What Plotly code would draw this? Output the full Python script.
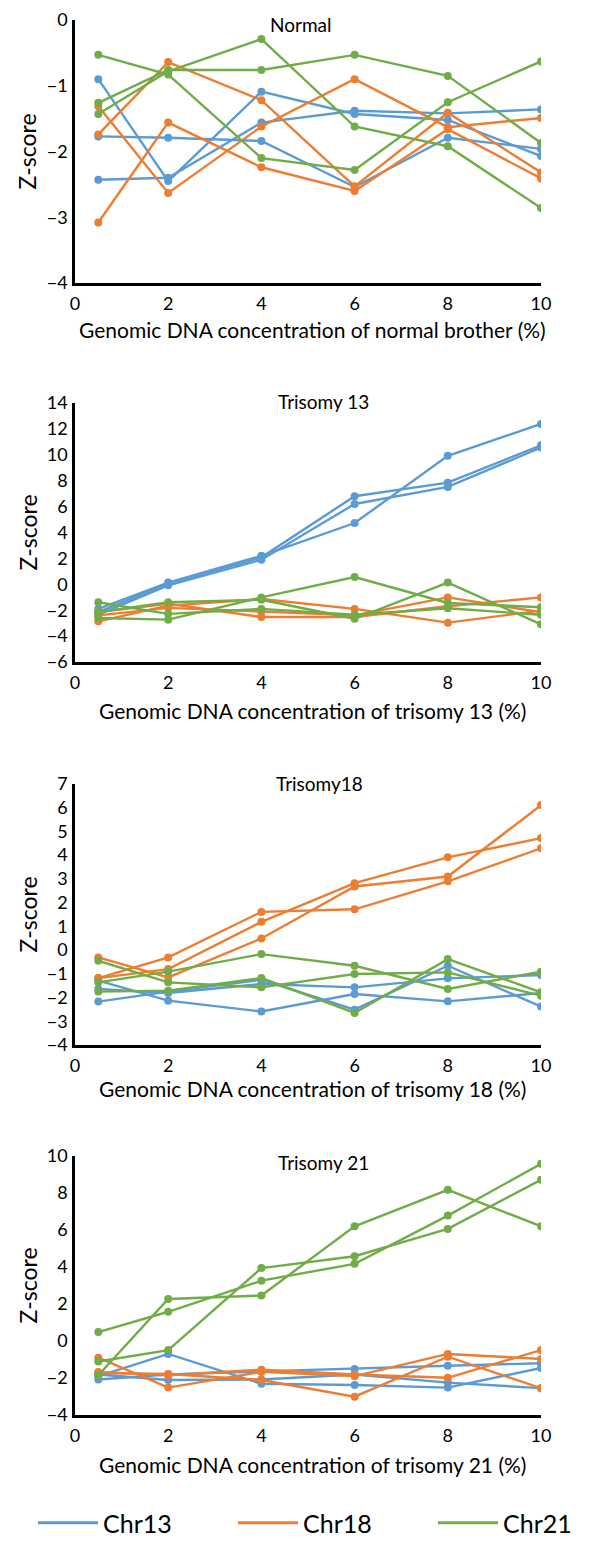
import plotly.graph_objects as go

# The page body keeps an 8px margin at the top/left; the figure fills the rest
OFF = 8
W, H = 598 - OFF, 1546 - OFF

conc = [0.5, 2, 4, 6, 8, 10]
x_ticks = [0, 2, 4, 6, 8, 10]

# ---- Normal ----
normal_chr13 = [
    [-0.90, -2.45, -1.09, -1.43, -1.52, -2.07],
    [-2.43, -2.40, -1.56, -1.38, -1.42, -1.36],
    [-1.77, -1.79, -1.84, -2.54, -1.79, -1.96],
]
normal_chr18 = [
    [-1.74, -0.64, -1.22, -2.53, -1.41, -2.32],
    [-3.08, -1.56, -2.24, -2.60, -1.66, -2.41],
    [-1.31, -2.63, -1.62, -0.90, -1.63, -1.49],
]
normal_chr21 = [
    [-0.53, -0.83, -2.10, -2.28, -1.25, -0.63],
    [-1.26, -0.76, -0.76, -0.53, -0.85, -1.87],
    [-1.43, -0.78, -0.29, -1.62, -1.92, -2.86],
]

# ---- Trisomy 13 ----
t13_chr13 = [
    [-1.90, 0.13, 2.20, 4.73, 9.92, 12.38],
    [-2.15, 0.05, 2.08, 6.80, 7.85, 10.73],
    [-2.35, -0.08, 1.90, 6.20, 7.52, 10.56],
]
t13_chr18 = [
    [-2.86, -1.65, -1.14, -1.90, -2.96, -2.03],
    [-2.40, -1.82, -2.10, -2.40, -1.01, -2.15],
    [-2.15, -1.50, -2.53, -2.53, -1.70, -1.01],
]
t13_chr21 = [
    [-2.60, -2.73, -1.01, 0.56, -1.44, -1.77],
    [-1.39, -2.28, -1.90, -2.35, -1.85, -2.35],
    [-2.15, -1.39, -1.19, -2.66, 0.13, -3.09],
]

# ---- Trisomy 18 ----
t18_chr13 = [
    [-1.29, -2.13, -2.59, -1.85, -2.16, -1.81],
    [-1.64, -1.81, -1.43, -1.57, -1.19, -1.05],
    [-2.17, -1.75, -1.25, -2.51, -0.66, -2.38],
]
t18_chr18 = [
    [-0.31, -1.15, 0.49, 2.68, 3.10, 6.11],
    [-1.18, -0.31, 1.61, 1.72, 2.90, 4.29],
    [-1.18, -0.80, 1.19, 2.82, 3.91, 4.72],
]
t18_chr21 = [
    [-0.45, -1.36, -1.57, -1.01, -0.94, -1.92],
    [-1.36, -0.91, -0.17, -0.66, -1.64, -0.91],
    [-1.75, -1.71, -1.18, -2.65, -0.38, -1.78],
]

# ---- Trisomy 21 ----
t21_chr13 = [
    [-1.90, -0.70, -2.31, -2.38, -2.52, -1.46],
    [-2.08, -1.81, -1.64, -1.51, -1.34, -1.20],
    [-1.81, -2.11, -2.08, -1.81, -2.25, -2.55],
]
t21_chr18 = [
    [-0.90, -2.52, -1.67, -1.90, -0.70, -0.97],
    [-1.73, -1.78, -2.11, -3.01, -0.85, -2.55],
    [-1.67, -1.85, -1.55, -1.81, -1.99, -0.49],
]
t21_chr21 = [
    [0.48, 1.58, 3.26, 4.17, 6.78, 9.58],
    [-1.11, -0.49, 3.94, 4.58, 6.06, 8.71],
    [-1.85, 2.27, 2.46, 6.20, 8.17, 6.20],
]

panel_titles = ["Normal", "Trisomy 13", "Trisomy18", "Trisomy 21"]
x_titles = [
    "Genomic DNA concentration of normal brother (%)",
    "Genomic DNA concentration of trisomy 13 (%)",
    "Genomic DNA concentration of trisomy 18 (%)",
    "Genomic DNA concentration of trisomy 21 (%)",
]
y_ranges = [[-4, 0], [-6, 14], [-4, 7], [-4, 10]]
y_dticks = [1, 2, 1, 2]
series_names = ["Chr13", "Chr18", "Chr21"]
colors = ["#5B9BD5", "#ED7D31", "#70AD47"]

panels = [
    [normal_chr13, normal_chr18, normal_chr21],
    [t13_chr13, t13_chr18, t13_chr21],
    [t18_chr13, t18_chr18, t18_chr21],
    [t21_chr13, t21_chr18, t21_chr21],
]

# page-pixel geometry of each plot area (as seen in the reference)
px_left, px_right = 75, 541
px_tops = [20, 403, 784, 1156]
px_bots = [283, 662, 1045, 1415]
title_px = [(300, 24), (323, 402), (319, 783), (323, 1162)]
xtitle_px = [329, 711, 1088, 1464]


def fx(X):
    return (X - OFF) / W


def fy(Y):
    return 1 - (Y - OFF) / H


FONT = "Lato, 'Open Sans', sans-serif"

fig = go.Figure()
layout = {}
annotations = []

for p, groups in enumerate(panels):
    ax = "" if p == 0 else str(p + 1)
    for s, lines in enumerate(groups):
        for k, vals in enumerate(lines):
            fig.add_trace(go.Scatter(
                x=conc, y=vals, mode="lines+markers",
                line=dict(color=colors[s], width=2.4),
                marker=dict(color=colors[s], size=8),
                name=series_names[s], legendgroup=series_names[s],
                showlegend=False,
                xaxis="x" + ax, yaxis="y" + ax,
            ))
    layout["xaxis" + ax] = dict(
        domain=[fx(px_left), fx(px_right)], anchor="y" + ax,
        range=[0, 10], tickvals=x_ticks, showgrid=False, zeroline=False,
        showline=True, linecolor="black", linewidth=2.5, ticks="",
        tickfont=dict(family=FONT, size=18, color="black"),
        ticklabelstandoff=3,
    )
    layout["yaxis" + ax] = dict(
        domain=[fy(px_bots[p]), fy(px_tops[p])], anchor="x" + ax,
        range=y_ranges[p], dtick=y_dticks[p], showgrid=False, zeroline=False,
        showline=True, linecolor="black", linewidth=2.5, ticks="",
        tickfont=dict(family=FONT, size=18, color="black"),
        ticklabelstandoff=1,
    )
    annotations.append(dict(
        text=panel_titles[p], x=fx(title_px[p][0]), y=fy(title_px[p][1]),
        xref="paper", yref="paper", showarrow=False,
        xanchor="center", yanchor="middle",
        font=dict(family=FONT, size=19, color="black"),
    ))
    annotations.append(dict(
        text=x_titles[p], x=fx(312), y=fy(xtitle_px[p]),
        xref="paper", yref="paper", showarrow=False,
        xanchor="center", yanchor="middle",
        font=dict(family=FONT, size=21, color="black"),
    ))
    annotations.append(dict(
        text="Z-score", x=fx(27), y=fy((px_tops[p] + px_bots[p]) / 2),
        xref="paper", yref="paper", showarrow=False, textangle=-90,
        xanchor="center", yanchor="middle",
        font=dict(family=FONT, size=23, color="black"),
    ))

# legend-only entries (plain line keys, as in the reference)
legend_widths = [125, 125, 70]
for s in range(3):
    fig.add_trace(go.Scatter(
        x=[None], y=[None], mode="lines",
        line=dict(color=colors[s], width=3),
        name=series_names[s], legendgroup=series_names[s],
        showlegend=True, hoverinfo="skip", legendwidth=legend_widths[s],
    ))

fig.update_layout(
    **layout,
    annotations=annotations,
    width=W, height=H,
    margin=dict(l=0, r=0, t=0, b=0, autoexpand=False),
    paper_bgcolor="white", plot_bgcolor="white",
    showlegend=True,
    legend=dict(
        orientation="h", x=fx(33), y=0,
        xanchor="left", yanchor="bottom",
        font=dict(family=FONT, size=25, color="black"),
        itemwidth=60, bgcolor="rgba(0,0,0,0)",
    ),
)

fig.write_html("out.html")
